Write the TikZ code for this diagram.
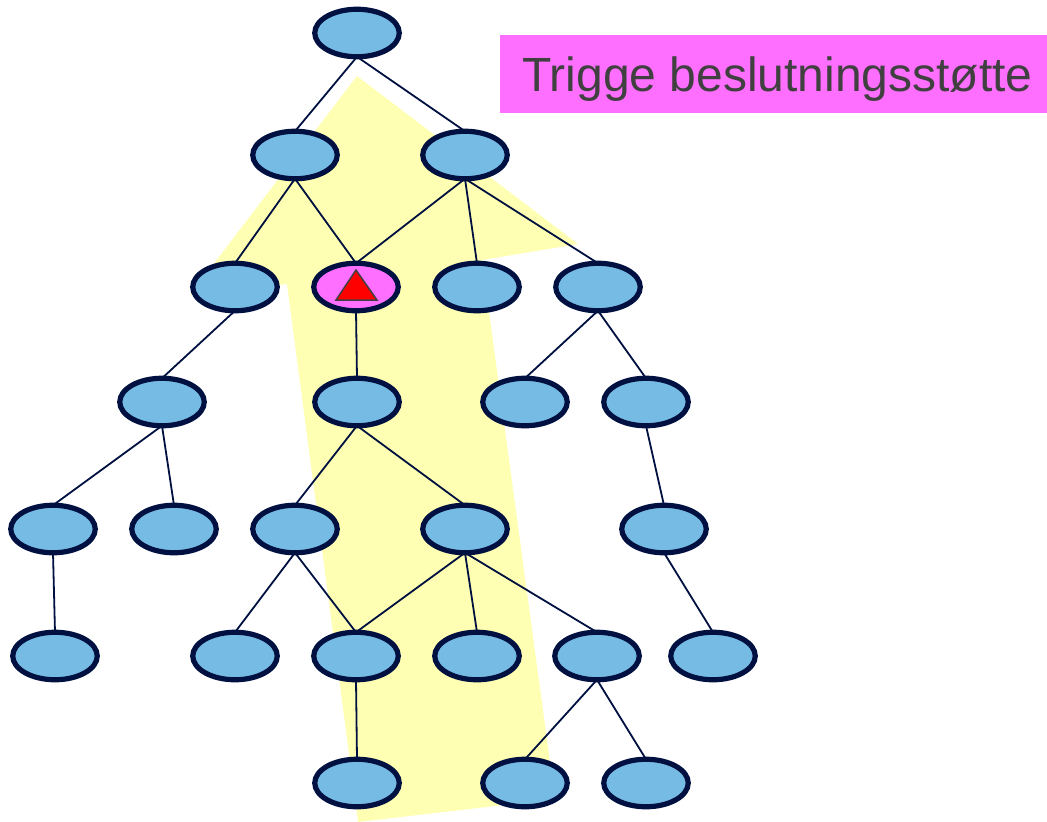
\documentclass[tikz,border=0pt]{standalone}
\usepackage{fontspec}
\setmainfont{Liberation Sans}
\usetikzlibrary{shapes.geometric}
\definecolor{navyline}{HTML}{001040}
\definecolor{nodeblue}{HTML}{75BBE4}
\definecolor{paleyellow}{HTML}{FFFFB3}
\definecolor{hotpink}{HTML}{FF6FFF}
\definecolor{darktext}{HTML}{404040}
\tikzset{
  treenode/.style={ellipse,draw=navyline,fill=nodeblue,line width=5.2pt,minimum width=84.5pt,minimum height=47.5pt,inner sep=0pt,outer sep=0pt},
  hitnode/.style={treenode,fill=hotpink},
  link/.style={draw=navyline,line width=1.8pt}
}
\begin{document}
\begin{tikzpicture}[x=1pt,y=-1pt]
\useasboundingbox (0,0) rectangle (1047,822);
\fill[paleyellow] (357,76) -- (578,244) -- (482,260) -- (555,799) -- (358,822) -- (287,284) -- (190,295) -- cycle;
\node[fill=hotpink,minimum width=547pt,minimum height=78pt,inner sep=0pt,outer sep=0pt,anchor=north west] (title) at (500,35) {};
\node[text=darktext,font=\fontsize{48}{52}\selectfont,anchor=base west,inner sep=0pt] (titletext) at (522,91) {Trigge beslutningsstøtte};
\foreach \n/\x/\y in {r/357/33,a/295/155,b/465/155,c/235/287,e/477/287,f/598/287,g/162/402,h/357/402,i/525/402,j/646/402,k/53/529,l/174/529,m/295/529,o/465/529,p/664/529,q/55/656,s/235/656,t/356/656,u/477/656,v/597/656,w/713/656,x/357/783,y/525/783,z/646/783}
  \node[treenode] (\n) at (\x,\y) {};
\node[hitnode] (d) at (356,287) {};
\foreach \p/\c in {r/a,r/b,a/c,a/d,b/d,b/e,b/f,c/g,d/h,f/i,f/j,g/k,g/l,h/m,h/o,j/p,k/q,m/s,m/t,o/t,o/u,o/v,p/w,t/x,v/y,v/z}
  \draw[link] (\p.south) -- (\c.north);
\draw[fill=red,draw=darktext,line width=1.5pt,line join=miter] (356,270) -- (377,300) -- (336,300) -- cycle;
\end{tikzpicture}
\end{document}
